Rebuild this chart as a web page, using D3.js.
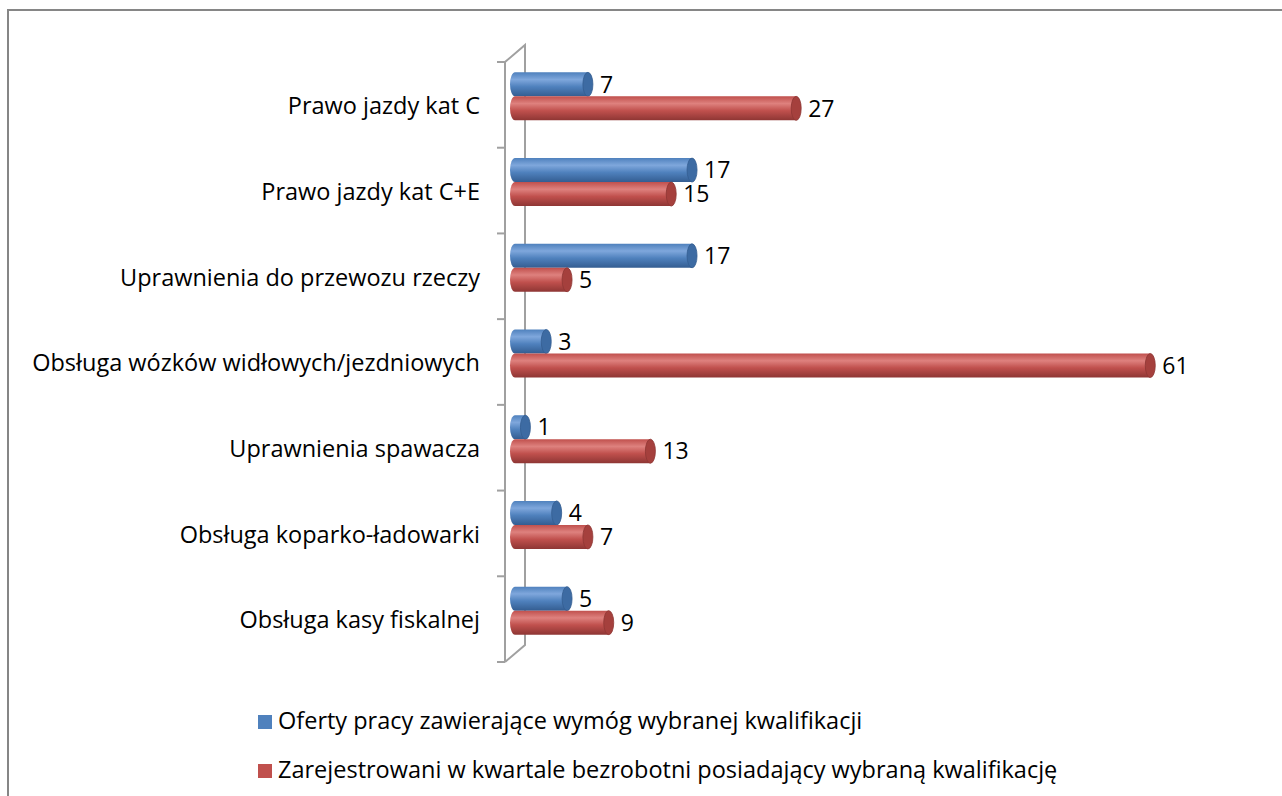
<!DOCTYPE html>
<html>
<head>
<meta charset="utf-8">
<script src="https://d3js.org/d3.v7.min.js"></script>
<style>
    body { margin: 0; background: #fff; }
    text { font-family: "Open Sans", sans-serif; fill: #000; }
</style>
</head>
<body>
<svg width="1282" height="796"></svg>
<script>
    // data
    var categories = [
        "Prawo jazdy kat C",
        "Prawo jazdy kat C+E",
        "Uprawnienia do przewozu rzeczy",
        "Obsługa wózków widłowych/jezdniowych",
        "Uprawnienia spawacza",
        "Obsługa koparko-ładowarki",
        "Obsługa kasy fiskalnej"
    ];
    var offers = [7, 17, 17, 3, 1, 4, 5];
    var registered = [27, 15, 5, 61, 13, 7, 9];
    var seriesNames = [
        "Oferty pracy zawierające wymóg wybranej kwalifikacji",
        "Zarejestrowani w kwartale bezrobotni posiadający wybraną kwalifikację"
    ];
    var seriesColors = [
        { light: "#7fa7dc", mid: "#4f81bd", dark: "#345d91", cap: "#3d6ba3" },
        { light: "#de817e", mid: "#c0504d", dark: "#8e3634", cap: "#a5403d" }
    ];

    function draw() {
        var svg = d3.select("svg");

        // outer frame (only top and left visible)
        svg.append("path")
            .attr("d", "M8,796 L8,10 L1282,10")
            .attr("fill", "none")
            .attr("stroke", "#868686")
            .attr("stroke-width", 2);

        var depthX = 20, depthY = -17;
        var frontX = 505, plotTop = 62, plotBottom = 662;

        var y = d3.scaleBand().domain(categories).range([plotTop, plotBottom]);
        var x = d3.scaleLinear().domain([0, 70]).range([frontX + depthX / 2, frontX + depthX / 2 + 729]);
        var yInner = d3.scaleBand().domain([0, 1]).range([0, 48]);

        // axis "wall"
        var axisG = svg.append("g").attr("stroke", "#a0a0a0").attr("stroke-width", 2).attr("fill", "none");
        axisG.append("path")
            .attr("d", "M" + frontX + "," + plotBottom + " L" + frontX + "," + plotTop +
                " L" + (frontX + depthX) + "," + (plotTop + depthY) +
                " L" + (frontX + depthX) + "," + (plotBottom + depthY) +
                " L" + frontX + "," + plotBottom);
        var ticks = categories.map(function (c) { return y(c); }).concat([plotBottom]);
        axisG.selectAll("line.tick").data(ticks).enter().append("line")
            .attr("x1", frontX - 8).attr("x2", frontX)
            .attr("y1", function (d) { return d; }).attr("y2", function (d) { return d; });

        // category labels
        svg.append("g").selectAll("text").data(categories).enter().append("text")
            .attr("x", 480)
            .attr("y", function (d) { return y(d) + y.bandwidth() / 2 + 3; })
            .attr("text-anchor", "end")
            .attr("dominant-baseline", "middle")
            .style("font-size", "23.5px")
            .text(function (d) { return d; });

        // gradients
        var defs = svg.append("defs");
        seriesColors.forEach(function (c, i) {
            var g = defs.append("linearGradient").attr("id", "cyl" + i)
                .attr("x1", 0).attr("y1", 0).attr("x2", 0).attr("y2", 1);
            g.append("stop").attr("offset", "0").attr("stop-color", c.mid);
            g.append("stop").attr("offset", "0.3").attr("stop-color", c.light);
            g.append("stop").attr("offset", "0.6").attr("stop-color", c.mid);
            g.append("stop").attr("offset", "1").attr("stop-color", c.dark);
        });

        var rows = [];
        categories.forEach(function (c, i) {
            rows.push({ cat: c, s: 0, v: offers[i] });
            rows.push({ cat: c, s: 1, v: registered[i] });
        });

        var pad = (y.bandwidth() - 48) / 2;
        function barTop(d) { return y(d.cat) + pad + yInner(d.s) + depthY / 2; }
        var h = yInner.bandwidth(), rx = 5;

        var bars = svg.append("g").selectAll("g").data(rows).enter().append("g");

        bars.append("path")
            .attr("d", function (d) {
                var x0 = x(0), x1 = x(d.v), t = barTop(d), b = t + h;
                return "M" + x1 + "," + t + " L" + x0 + "," + t +
                    " A" + rx + "," + (h / 2) + " 0 0 0 " + x0 + "," + b +
                    " L" + x1 + "," + b + " Z";
            })
            .attr("fill", function (d) { return "url(#cyl" + d.s + ")"; });

        bars.append("ellipse")
            .attr("cx", function (d) { return x(d.v); })
            .attr("cy", function (d) { return barTop(d) + h / 2; })
            .attr("rx", rx)
            .attr("ry", h / 2)
            .attr("fill", function (d) { return seriesColors[d.s].cap; })
            .attr("stroke", function (d) { return seriesColors[d.s].dark; })
            .attr("stroke-width", 0.8);

        bars.append("text")
            .attr("x", function (d) { return x(d.v) + rx + 7; })
            .attr("y", function (d) { return barTop(d) + h / 2 + 2; })
            .attr("dominant-baseline", "middle")
            .style("font-size", "23px")
            .text(function (d) { return d.v; });

        // legend
        var legend = svg.append("g").selectAll("g").data(seriesNames).enter().append("g")
            .attr("transform", function (d, i) { return "translate(258," + (722 + i * 49) + ")"; });
        legend.append("rect")
            .attr("x", 0).attr("y", -7).attr("width", 14).attr("height", 14)
            .attr("fill", function (d, i) { return seriesColors[i].mid; });
        legend.append("text")
            .attr("x", 20).attr("y", 1)
            .attr("dominant-baseline", "middle")
            .style("font-size", "23.5px")
            .text(function (d) { return d; });
    }
    draw();
</script>
</body>
</html>
